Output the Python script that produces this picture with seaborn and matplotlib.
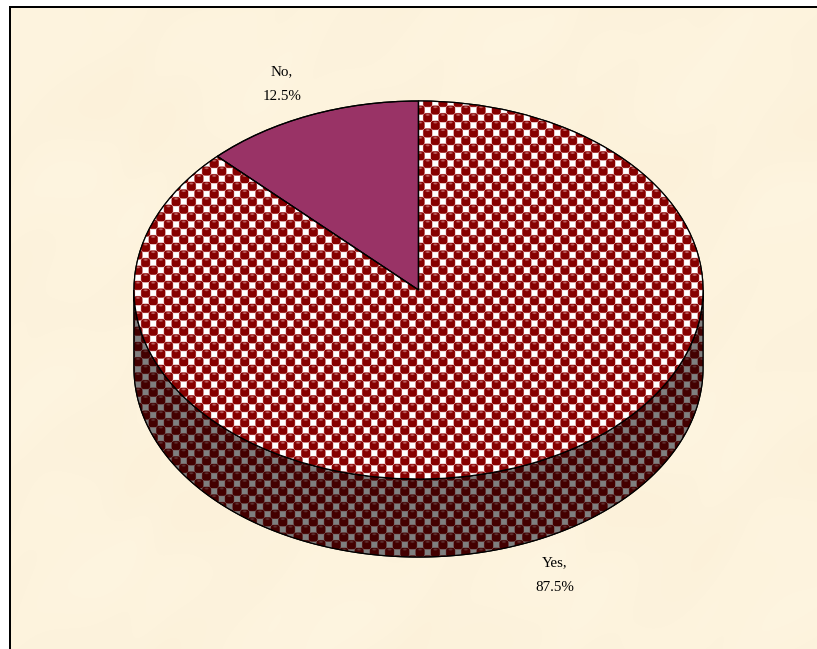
import numpy as np
import matplotlib
matplotlib.use("Agg")
import matplotlib.pyplot as plt
from matplotlib.patches import Polygon, PathPatch
import seaborn as sns

categories = ["Yes", "No"]
shares = [87.5, 12.5]
label_px = [(555, 575), (282, 84)]

W, H = 817, 649
CX, CY, RX, RY, DEPTH = 418.5, 290, 284.5, 189, 78
P = 15.25

sns.set_theme(style="white")
plt.rcParams["font.family"] = ["Liberation Serif", "DejaVu Serif"]

fig = plt.figure(figsize=(W / 100, H / 100), dpi=100, facecolor="white")
ax = fig.add_axes([0, 0, 1, 1])

colors = sns.color_palette(["#8b0000", "#993366"])
wedges, _ = ax.pie(shares, startangle=90, counterclock=False, colors=colors,
                   wedgeprops=dict(edgecolor="black", linewidth=0.9, zorder=3))

xlim = (-CX / RX, (W - CX) / RX)
ylim = (-(H - CY) / RY, CY / RY)
ax.set_aspect("auto")
ax.set_xlim(xlim)
ax.set_ylim(ylim)
ax.axis("off")


def px(x, y):
    return (x - CX) / RX, (CY - y) / RY


# paper background
yy, xx = np.mgrid[0:H, 0:W] + 0.5
mott = (np.sin(xx / 37 + 1.3 * np.sin(yy / 53)) + np.sin(yy / 29 + 1.1 * np.sin(xx / 61))
        + 0.7 * np.sin((xx + yy) / 17 + np.sin(xx / 23))) / 2.7
paper = np.dstack([np.full_like(xx, 253) + mott * 0.6,
                   np.full_like(xx, 243) + mott * 1.5,
                   np.full_like(xx, 221) + mott * 3.0]) / 255
paper = np.clip(paper, 0, 1)
paper[yy < 6.5] = 1
paper[xx < 9] = 1
paper[(yy >= 6) & (yy < 8) & (xx >= 9)] = 0
paper[(xx >= 9) & (xx < 11) & (yy >= 6)] = 0
full = xlim + ylim
ax.imshow(paper, extent=full, origin="upper", interpolation="none", aspect="auto", zorder=0)

# dotted fill pattern
OX, OY = 427.7, 117.7
u = (xx - OX) / P
v = (yy - OY) / P


def lattice_dist(u, v):
    return u - np.round(u), v - np.round(v)


du1, dv1 = lattice_dist(u, v)
du2, dv2 = lattice_dist(u + 0.5, v + 0.5)
first = np.hypot(du1, dv1) < np.hypot(du2, dv2)
d = np.minimum(np.hypot(du1, dv1), np.hypot(du2, dv2)) * P
hu = np.where(first, du1, du2) * P
hv = np.where(first, dv1, dv2) * P
su1, sv1 = lattice_dist(u + 0.5, v)
su2, sv2 = lattice_dist(u, v + 0.5)
sq = np.minimum(np.maximum(abs(su1), abs(sv1)), np.maximum(abs(su2), abs(sv2))) * P

pat = np.empty((H, W, 3))
pat[:] = np.array([226, 170, 170]) / 255
dot = np.clip(5.7 - d, 0, 1)[..., None]
body = np.array([134, 0, 0]) / 255
pat = pat * (1 - dot) + body * dot
hl = np.clip(1.4 - np.hypot(hu / 2.0, hv + 2.8), 0, 1)[..., None] * 0.6
pat = pat * (1 - hl) + np.array([226, 160, 160]) / 255 * hl
ring = np.clip(3.8 - sq, 0, 1)[..., None] * 0.75
pat = pat * (1 - ring) + np.array([226, 170, 170]) / 255 * ring
white = np.clip(3.3 - sq, 0, 1)[..., None]
pat = pat * (1 - white) + white

top_img = ax.imshow(pat, extent=full, origin="upper", interpolation="none", aspect="auto", zorder=3.2)
top_img.set_clip_path(wedges[0])

# rim of the disc
t = np.linspace(np.pi, 2 * np.pi, 240)
d_units = DEPTH / RY
rim_xy = np.r_[np.c_[np.cos(t), np.sin(t) - d_units], np.c_[np.cos(t)[::-1], np.sin(t)[::-1]]]
rim = Polygon(rim_xy, closed=True, facecolor="#400000", edgecolor="black", linewidth=0.9, zorder=2)
ax.add_patch(rim)
rim_img = ax.imshow(pat * 0.5, extent=full, origin="upper", interpolation="none", aspect="auto", zorder=2.2)
rim_img.set_clip_path(rim)
outline = Polygon(rim_xy, closed=True, fill=False, edgecolor="black", linewidth=0.9, zorder=2.4)
ax.add_patch(outline)

# wedge outlines over the pattern
for w in wedges:
    ax.add_patch(PathPatch(w.get_path(), transform=w.get_transform(),
                           fill=False, edgecolor="black", linewidth=0.9, zorder=3.4))

ax.set_xlim(xlim)
ax.set_ylim(ylim)

for name, val, (lx, ly) in zip(categories, shares, label_px):
    x, y = px(lx, ly)
    ax.text(x, y, f"{name},\n{val}%", ha="center", va="center", fontsize=10.8,
            color="black", linespacing=2.2, zorder=5)

fig.savefig("out.png", dpi=100)
